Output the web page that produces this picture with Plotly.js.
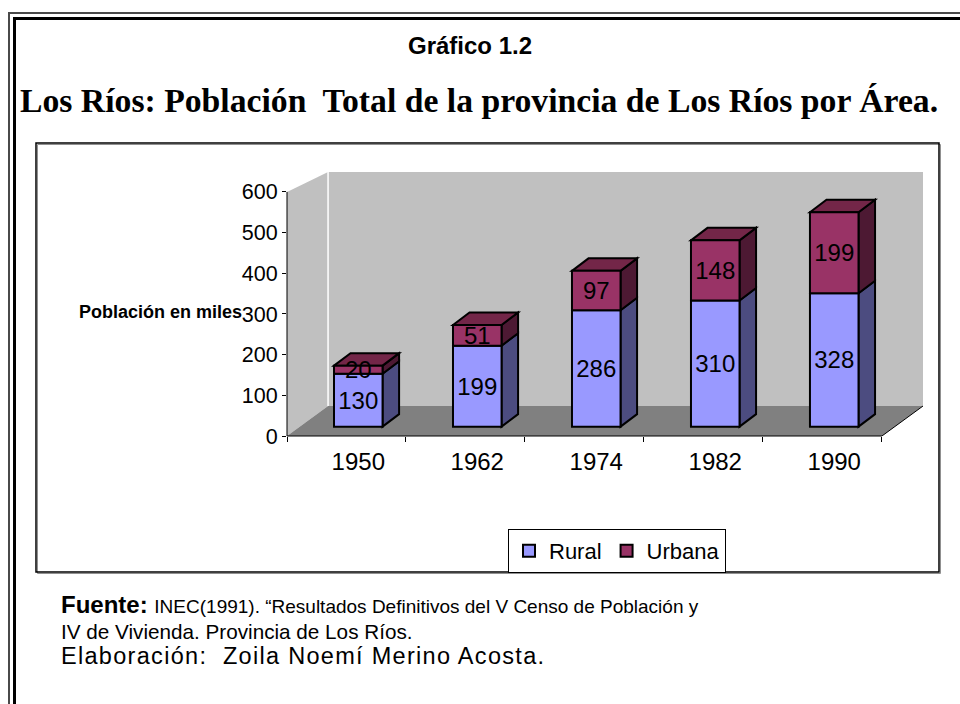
<!DOCTYPE html>
<html>
<head>
<meta charset="utf-8">
<script src="https://cdn.plot.ly/plotly-3.0.1.min.js"></script>
<style>
  html, body { margin: 0; padding: 0; background: #ffffff; }
  #chart { width: 960px; height: 704px; }
  .annotation[data-index="5"] text { letter-spacing: 1.3px; }
</style>
</head>
<body>
<div id="chart"></div>
<script>
// ---- data ----
const years = ['1950', '1962', '1974', '1982', '1990'];
const rural = [130, 199, 286, 310, 328];
const urbana = [20, 51, 97, 148, 199];
const yTickVals = [0, 100, 200, 300, 400, 500, 600];
const seriesNames = ['Rural', 'Urbana'];

// ---- geometry / style ----
const W = 960, H = 704;
const ML = 287, MR = 37, MT = 172, MB = 268;
const PW = W - ML - MR, PH = H - MT - MB;
const PX = x => (x - ML) / PW;
const PY = y => (H - MB - y) / PH;

const YMAX = 649;          // value at top of plot area
const FLOOR_LIFT = 23;     // front face of bars sits above front floor edge
const WALL_DX = 0.345;     // depth of wall (category units)
const WALL_DY = 73.7;      // depth of floor (value units)
const BAR_OFF = -0.105, BAR_W = 0.408;
const BAR_DX = 0.139, BAR_DY = 30.7;
const XMAX = 4.5 + WALL_DX;
const LABEL_SHIFT = BAR_OFF + BAR_W / 2;   // category labels sit under the bar front

const C_RURAL = '#9999FF', C_URB = '#993366';
const C_RURAL_SIDE = '#4C4C80', C_URB_SIDE = '#4D1933', C_URB_TOP = '#732648';
const FONT = 'Liberation Sans, Arial, sans-serif';

const xs = years.map((_, i) => i);

const barCommon = {
  type: 'bar', offset: BAR_OFF, width: BAR_W,
  textposition: 'inside', insidetextanchor: 'middle', textangle: 0,
  constraintext: 'none', cliponaxis: false,
  textfont: { family: FONT, size: 24, color: '#000' },
  hoverinfo: 'skip'
};

const traces = [
  Object.assign({}, barCommon, {
    name: seriesNames[0], x: xs, y: rural,
    base: rural.map(() => FLOOR_LIFT),
    marker: { color: C_RURAL, line: { color: '#000', width: 2 } },
    text: rural.map(String)
  }),
  Object.assign({}, barCommon, {
    name: seriesNames[1], x: xs, y: urbana,
    base: rural.map(r => r + FLOOR_LIFT),
    marker: { color: C_URB, line: { color: '#000', width: 2 } },
    text: urbana.map(String)
  })
];

const shapes = [];
// walls & floor
shapes.push({ type: 'rect', xref: 'x', yref: 'y', layer: 'below',
  x0: -0.5 + WALL_DX, x1: XMAX, y0: WALL_DY, y1: YMAX,
  fillcolor: '#C0C0C0', line: { width: 0 } });
shapes.push({ type: 'path', xref: 'x', yref: 'y', layer: 'below',
  path: `M -0.5,0 L -0.5,600 L ${-0.5 + WALL_DX},${YMAX} L ${-0.5 + WALL_DX},${WALL_DY} Z`,
  fillcolor: '#C0C0C0', line: { width: 0 } });
shapes.push({ type: 'path', xref: 'x', yref: 'y', layer: 'below',
  path: `M -0.5,0 L ${-0.5 + WALL_DX},${WALL_DY} L ${XMAX},${WALL_DY} L 4.5,0 Z`,
  fillcolor: '#808080', line: { width: 0 } });
shapes.push({ type: 'line', xref: 'x', yref: 'y', layer: 'below',
  x0: -0.5 + WALL_DX, x1: -0.5 + WALL_DX, y0: WALL_DY, y1: YMAX,
  line: { color: '#FFFFFF', width: 1.5 } });
// bar side and top faces
xs.forEach((i) => {
  const x0 = i + BAR_OFF, x1 = x0 + BAR_W;
  const b = FLOOR_LIFT, r = b + rural[i], t = r + urbana[i];
  const side = (lo, hi, col) => ({ type: 'path', xref: 'x', yref: 'y', layer: 'below',
    path: `M ${x1},${lo} L ${x1 + BAR_DX},${lo + BAR_DY} L ${x1 + BAR_DX},${hi + BAR_DY} L ${x1},${hi} Z`,
    fillcolor: col, line: { color: '#000', width: 2 } });
  shapes.push(side(b, r, C_RURAL_SIDE));
  shapes.push(side(r, t, C_URB_SIDE));
  shapes.push({ type: 'path', xref: 'x', yref: 'y', layer: 'below',
    path: `M ${x0},${t} L ${x0 + BAR_DX},${t + BAR_DY} L ${x1 + BAR_DX},${t + BAR_DY} L ${x1},${t} Z`,
    fillcolor: C_URB_TOP, line: { color: '#000', width: 2 } });
});
// axis lines
shapes.push({ type: 'line', xref: 'paper', yref: 'y', x0: 0, x1: 0, y0: 0, y1: 600,
  line: { color: '#000', width: 1 } });
shapes.push({ type: 'line', xref: 'x', yref: 'paper', x0: -0.5, x1: 4.5, y0: 0, y1: 0,
  line: { color: '#000', width: 1 } });
shapes.push({ type: 'line', xref: 'x', yref: 'y', x0: 4.5, x1: XMAX, y0: 0, y1: WALL_DY,
  line: { color: '#000', width: 1 } });
// frames
shapes.push({ type: 'rect', xref: 'paper', yref: 'paper',
  x0: PX(37.5), x1: PX(940.5), y0: PY(144.5), y1: PY(573.5), line: { color: '#909090', width: 1 } });
shapes.push({ type: 'rect', xref: 'paper', yref: 'paper',
  x0: PX(36), x1: PX(939), y0: PY(143), y1: PY(572), line: { color: '#000', width: 1.5 } });
shapes.push({ type: 'rect', xref: 'paper', yref: 'paper',
  x0: PX(9), x1: PX(1000), y0: PY(13), y1: PY(760), line: { color: '#4a4a4a', width: 2 } });
shapes.push({ type: 'rect', xref: 'paper', yref: 'paper',
  x0: PX(14.5), x1: PX(1000), y0: PY(18.5), y1: PY(760), line: { color: '#000', width: 3 } });

const ann = (text, x, y, size, opts = {}) => Object.assign({
  text, xref: 'paper', yref: 'paper', x: PX(x), y: PY(y), showarrow: false,
  xanchor: 'left', yanchor: 'middle', align: 'left', font: { family: FONT, size, color: '#000' }
}, opts);

const annotations = [
  ann('<b>Gráfico 1.2</b>', 470, 45, 24, { xanchor: 'center', align: 'center' }),
  ann('<b>Los Ríos: Población\u00A0 Total de la provincia de Los Ríos por Área.</b>', 479, 100, 33.7,
      { xanchor: 'center', align: 'center', font: { family: 'Liberation Serif, Times New Roman, serif', size: 33.7, color: '#000' } }),
  ann('<b>Población en miles</b>', 77, 312, 18),
  ann('<b>Fuente:</b> <span style="font-size:19px">INEC(1991). “Resultados Definitivos del V Censo de Población y</span>', 59, 604, 24),
  ann('IV de Vivienda. Provincia de Los Ríos.', 59, 631, 20.7),
  ann('Elaboración:\u00A0 Zoila Noemí Merino Acosta.', 59, 656, 23.5)
];

const layout = {
  width: W, height: H,
  margin: { l: ML, r: MR, t: MT, b: MB, pad: 0 },
  paper_bgcolor: '#FFFFFF', plot_bgcolor: '#FFFFFF',
  barmode: 'overlay',
  font: { family: FONT, color: '#000' },
  showlegend: true,
  legend: {
    orientation: 'h', x: PX(508), y: PY(529), xanchor: 'left', yanchor: 'top',
    bgcolor: '#FFFFFF', bordercolor: '#000', borderwidth: 1,
    font: { family: FONT, size: 22, color: '#000' }, traceorder: 'normal',
    itemwidth: 30, tracegroupgap: 0
  },
  xaxis: {
    range: [-0.5, XMAX], tickmode: 'array', tickvals: xs.map(i => i + LABEL_SHIFT), ticktext: years,
    ticks: '', showline: false, showgrid: false, zeroline: false,
    tickfont: { family: FONT, size: 24, color: '#000' }, ticklabelstandoff: 9,
    minor: { tickmode: 'linear', tick0: -0.5, dtick: 1, ticks: 'outside', ticklen: 5,
             tickcolor: '#000', tickwidth: 1, showgrid: false },
    fixedrange: true
  },
  yaxis: {
    range: [0, YMAX], tickmode: 'array', tickvals: yTickVals,
    ticks: 'outside', ticklen: 4, tickcolor: '#000', tickwidth: 1,
    showline: false, showgrid: false, zeroline: false,
    tickfont: { family: FONT, size: 21.5, color: '#000' },
    fixedrange: true
  },
  shapes, annotations
};

Plotly.newPlot('chart', traces, layout, { displayModeBar: false, staticPlot: true });
</script>
</body>
</html>
